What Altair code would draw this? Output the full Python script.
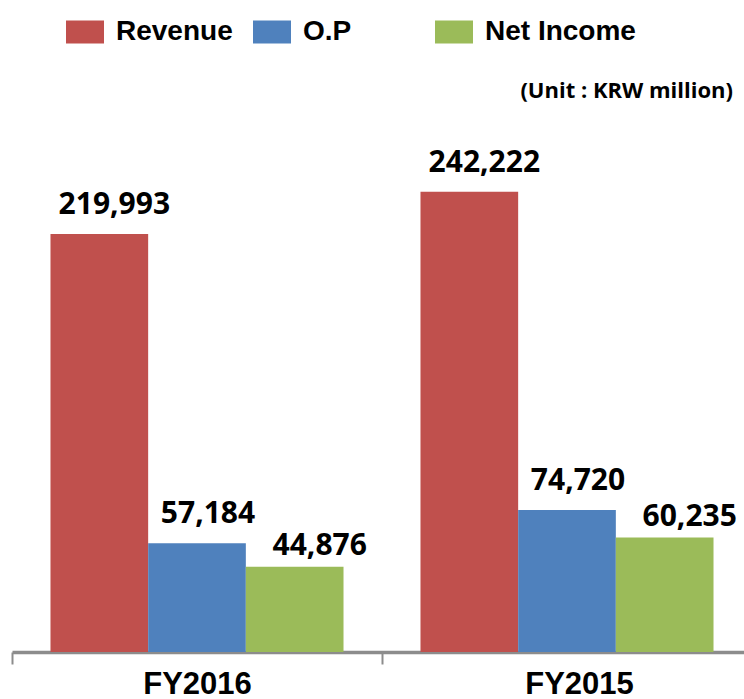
import altair as alt
import pandas as pd

years = ["FY2016", "FY2015"]
series = ["Revenue", "O.P", "Net Income"]
revenue = [219993, 242222]
op = [57184, 74720]
net_income = [44876, 60235]
colors = ["#C0504D", "#4F81BD", "#9BBB59"]

rows = []
for i, yr in enumerate(years):
    for s, vals in zip(series, [revenue, op, net_income]):
        rows.append({"year": yr, "series": s, "value": vals[i]})
df = pd.DataFrame(rows)

x_enc = alt.X(
    "year:N",
    sort=years,
    scale=alt.Scale(range=[0, 740], paddingInner=0, paddingOuter=0),
    axis=alt.Axis(
        title=None,
        labelAngle=0,
        domainColor="#8C8C8C",
        domainWidth=3.5,
        tickColor="#8C8C8C",
        tickWidth=2,
        tickSize=12,
        tickBand="extent",
        labelFont="Liberation Sans",
        labelFontSize=31,
        labelFontWeight="bold",
        labelColor="#000000",
        labelPadding=5,
        labelOffset={"condition": {"test": "datum.value === 'FY2015'", "value": 12}, "value": 0},
    ),
)
xoff_enc = alt.XOffset(
    "series:N", sort=series, scale=alt.Scale(paddingInner=0, paddingOuter=0.394)
)
y_enc = alt.Y(
    "value:Q", scale=alt.Scale(domain=[0, 250000], nice=False), axis=None
)

base = alt.Chart(df)

pad = "\u2800\u2800\u2800"

bars = base.mark_bar().encode(
    x=x_enc,
    xOffset=xoff_enc,
    y=y_enc,
    color=alt.Color(
        "series:N",
        sort=series,
        scale=alt.Scale(domain=series, range=colors),
        legend=alt.Legend(
            title=None,
            orient="none",
            legendX=54,
            legendY=-164,
            direction="horizontal",
            padding=0,
            symbolType="M-1,-0.6H1V0.6H-1Z",
            symbolSize=1444,
            symbolStrokeWidth=0,
            labelFont="Liberation Sans",
            labelFontSize=28,
            labelFontWeight="bold",
            labelColor="#000000",
            labelOffset=12,
            labelLimit=400,
            columnPadding=20,
            labelExpr="datum.label == 'O.P' ? 'O.P" + pad + "' : datum.label",
        ),
    ),
)

def label_layer(name, dx, dy):
    return (
        base.transform_filter(alt.datum.series == name)
        .mark_text(
            font="Open Sans",
            fontSize=30,
            fontWeight="bold",
            color="#000000",
            align="center",
            baseline="alphabetic",
            dx=dx,
            dy=dy,
        )
        .encode(
            x=x_enc,
            xOffset=xoff_enc,
            y=y_enc,
            text=alt.Text("value:Q", format=","),
        )
    )

chart = (
    alt.layer(
        bars,
        label_layer("Revenue", 15, -20),
        label_layer("O.P", 11, -20),
        label_layer("Net Income", 25, -12),
    )
    .properties(
        width=732,
        height=475,
        autosize="none",
        padding={"left": 12, "top": 177, "right": 0, "bottom": 44},
        title=alt.Title(
            "(Unit : KRW million)",
            anchor="end",
            orient="top",
            frame="group",
            offset=-107,
            baseline="alphabetic",
            font="Open Sans",
            fontSize=22,
            fontWeight="bold",
            color="#000000",
            dx=-11,
        ),
    )
    .configure_view(stroke=None)
)

chart.save("out.html", embed_options={"renderer": "svg", "actions": False})
